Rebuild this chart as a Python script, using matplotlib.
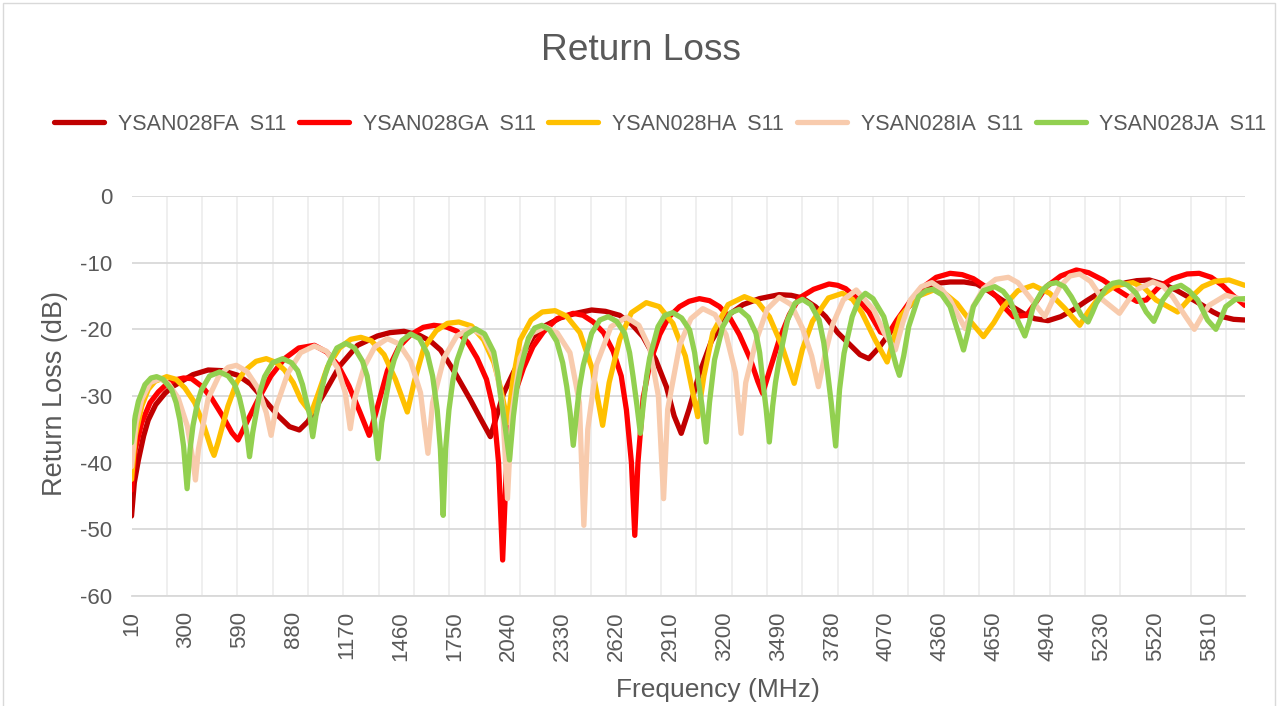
import matplotlib.pyplot as plt
from matplotlib.patches import Rectangle

plt.rcParams['font.family'] = ['Liberation Sans', 'DejaVu Sans']
plt.rcParams['axes.unicode_minus'] = False

# Frequency (MHz) / return loss (dB)
fa_freq = [10, 25, 47, 75, 100, 140, 190, 230, 261, 340, 422, 500, 583, 650, 726, 800, 860, 913,
           960, 1000, 1047, 1130, 1226, 1333, 1400, 1476, 1560, 1620, 1673, 1750, 1834, 1890,
           1941, 1975, 2012, 2066, 2120, 2173, 2240, 2316, 2400, 2486, 2560, 2637, 2700, 2762,
           2830, 2888, 2930, 2968, 3010, 3066, 3130, 3209, 3300, 3388, 3495, 3560, 3620, 3690,
           3745, 3810, 3879, 3930, 3977, 4030, 4094, 4180, 4272, 4340, 4415, 4490, 4558, 4620,
           4683, 4750, 4808, 4870, 4942, 5010, 5076, 5150, 5219, 5290, 5362, 5420, 5487, 5560,
           5630, 5700, 5773, 5830, 5880, 5940, 6000]
fa_db = [-48.0, -43.0, -39.6, -36.0, -33.6, -31.3, -29.6, -28.6, -28.1, -26.8, -26.1, -26.2, -26.9,
         -28.2, -30.6, -33.0, -34.6, -35.1, -33.8, -31.8, -29.6, -25.5, -22.4, -21.0, -20.5, -20.3,
         -20.9, -21.8, -23.1, -26.5, -30.6, -33.5, -36.1, -33.0, -29.6, -26.4, -23.5, -21.1, -19.4,
         -18.3, -17.6, -17.1, -17.3, -17.9, -19.2, -21.1, -24.5, -28.6, -33.0, -35.6, -32.0, -26.6,
         -21.8, -18.1, -16.3, -15.4, -14.8, -14.9, -15.3, -16.6, -18.1, -20.5, -22.4, -23.8, -24.4,
         -22.8, -20.4, -17.0, -14.1, -13.1, -12.9, -12.9, -13.2, -14.2, -15.4, -16.6, -17.6, -18.4,
         -18.7, -18.1, -17.1, -15.7, -14.5, -13.6, -13.0, -12.7, -12.6, -13.2, -14.1, -15.2, -16.4,
         -17.4, -18.1, -18.5, -18.6]

ga_freq = [10, 30, 65, 110, 154, 200, 243, 290, 333, 390, 440, 500, 550, 583, 620, 690, 760, 833,
           910, 994, 1060, 1119, 1180, 1240, 1289, 1320, 1387, 1450, 1512, 1580, 1637, 1700, 1762,
           1820, 1869, 1920, 1959, 1985, 2007, 2025, 2048, 2080, 2119, 2170, 2226, 2300, 2387,
           2440, 2495, 2550, 2602, 2645, 2673, 2700, 2718, 2735, 2763, 2800, 2852, 2900, 2959,
           3010, 3066, 3120, 3174, 3230, 3281, 3340, 3380, 3406, 3440, 3495, 3550, 3603, 3680,
           3763, 3810, 3853, 3915, 3978, 4040, 4080, 4129, 4200, 4272, 4340, 4415, 4480, 4540,
           4600, 4665, 4710, 4755, 4826, 4880, 4933, 5010, 5094, 5160, 5237, 5300, 5362, 5420,
           5470, 5540, 5612, 5690, 5755, 5820, 5880, 5940, 6000]
ga_db = [-44.1, -38.0, -34.0, -31.0, -29.4, -28.2, -27.6, -27.3, -27.4, -28.6, -30.3, -33.0, -35.5,
         -36.6, -34.5, -30.6, -27.0, -24.4, -22.8, -22.4, -23.4, -25.3, -28.5, -32.5, -35.9, -33.0,
         -26.2, -22.6, -20.8, -19.7, -19.4, -19.6, -20.3, -22.0, -24.3, -27.5, -32.1, -40.0, -54.6,
         -42.0, -34.0, -29.0, -25.8, -22.6, -20.4, -18.4, -17.6, -17.9, -18.9, -20.5, -23.3, -27.0,
         -32.1, -40.0, -50.9, -40.0, -30.3, -25.0, -20.8, -18.2, -16.6, -15.8, -15.4, -15.7, -16.6,
         -18.3, -20.8, -24.5, -27.8, -29.6, -26.5, -21.6, -17.8, -15.3, -14.0, -13.2, -13.4, -13.9,
         -15.4, -17.4, -20.4, -20.8, -18.6, -15.8, -13.6, -12.2, -11.6, -11.8, -12.4, -13.5, -15.1,
         -16.8, -18.1, -17.9, -15.8, -13.6, -12.0, -11.1, -11.5, -12.6, -13.8, -14.9, -15.8, -15.6,
         -13.6, -12.4, -11.7, -11.6, -12.2, -13.4, -15.0, -16.4]

ha_freq = [10, 30, 65, 100, 136, 199, 250, 297, 350, 400, 440, 454, 475, 529, 575, 619, 680, 735,
           790, 833, 880, 922, 976, 1010, 1065, 1130, 1190, 1244, 1300, 1369, 1430, 1494, 1530,
           1583, 1650, 1710, 1771, 1840, 1905, 1960, 1994, 2035, 2060, 2101, 2160, 2220, 2289,
           2350, 2423, 2490, 2545, 2580, 2637, 2700, 2780, 2850, 2923, 2990, 3057, 3090, 3138,
           3220, 3308, 3380, 3442, 3510, 3576, 3620, 3674, 3760, 3835, 3890, 3940, 4010, 4076,
           4110, 4147, 4236, 4326, 4390, 4451, 4530, 4594, 4650, 4701, 4780, 4862, 4951, 5030,
           5112, 5160, 5219, 5300, 5398, 5460, 5523, 5639, 5700, 5773, 5840, 5916, 6000]
ha_db = [-42.5, -36.0, -31.5, -29.0, -27.8, -27.1, -27.5, -28.8, -31.0, -34.5, -38.0, -38.9, -37.0,
         -31.5, -28.0, -26.2, -24.8, -24.4, -25.0, -26.1, -28.0, -30.6, -32.6, -30.0, -25.6, -22.8,
         -21.5, -21.2, -21.7, -23.8, -27.5, -32.4, -28.0, -22.8, -20.2, -19.1, -18.9, -19.5, -21.6,
         -25.0, -28.6, -34.0, -28.0, -21.6, -18.6, -17.4, -17.2, -18.0, -20.5, -26.0, -34.4, -28.0,
         -21.5, -17.5, -16.0, -16.6, -19.1, -24.0, -33.1, -27.0, -20.5, -16.3, -15.1, -15.9, -18.1,
         -22.5, -28.1, -23.0, -18.8, -15.3, -14.6, -15.5, -17.5, -21.5, -24.9, -21.5, -18.1, -15.1,
         -14.1, -14.7, -16.1, -19.0, -21.1, -19.0, -16.6, -14.2, -13.4, -14.6, -16.8, -19.4, -17.3,
         -15.1, -13.5, -13.0, -13.8, -15.6, -17.4, -15.5, -13.6, -12.8, -12.6, -13.4]

ia_freq = [10, 35, 65, 110, 163, 210, 261, 310, 340, 354, 370, 422, 480, 530, 574, 630, 690, 735,
           761, 790, 851, 920, 994, 1060, 1119, 1160, 1187, 1210, 1262, 1320, 1387, 1450, 1512,
           1565, 1605, 1630, 1691, 1760, 1834, 1900, 1959, 2005, 2033, 2055, 2101, 2165, 2235,
           2300, 2369, 2420, 2444, 2465, 2512, 2590, 2673, 2740, 2798, 2845, 2873, 2895, 2959,
           3020, 3084, 3150, 3209, 3260, 3290, 3315, 3370, 3430, 3495, 3560, 3620, 3670, 3706,
           3740, 3781, 3840, 3910, 4004, 4060, 4120, 4160, 4201, 4260, 4317, 4370, 4415, 4496,
           4540, 4594, 4660, 4728, 4780, 4826, 4924, 4960, 5005, 5060, 5112, 5170, 5237, 5326,
           5370, 5416, 5505, 5560, 5612, 5680, 5729, 5770, 5809, 5898, 6000]
ia_db = [-40.6, -34.0, -30.5, -28.0, -27.4, -28.2, -30.3, -34.5, -39.5, -42.6, -38.0, -30.4, -27.0,
         -25.7, -25.4, -26.3, -28.8, -32.5, -35.9, -31.5, -26.6, -23.5, -22.5, -23.3, -25.8, -29.5,
         -34.9, -30.5, -25.6, -22.6, -21.4, -22.2, -24.8, -29.5, -38.6, -31.0, -24.3, -21.0, -19.9,
         -20.8, -24.1, -31.0, -45.4, -33.0, -24.3, -20.6, -19.6, -20.5, -23.5, -31.0, -49.4, -35.0,
         -25.3, -19.6, -18.2, -19.4, -22.8, -30.0, -45.4, -32.0, -22.4, -18.4, -16.9, -17.8, -20.8,
         -26.5, -35.6, -28.0, -21.8, -17.0, -15.2, -16.3, -19.8, -24.0, -28.6, -24.0, -19.4, -15.6,
         -14.1, -17.1, -20.5, -23.1, -19.0, -15.6, -13.6, -13.0, -14.0, -15.6, -19.9, -16.5, -13.9,
         -12.5, -12.2, -13.0, -14.6, -18.1, -16.0, -13.6, -12.0, -11.7, -12.8, -15.6, -17.6, -15.8,
         -14.1, -12.9, -13.5, -15.1, -18.0, -20.0, -18.0, -16.4, -14.9, -15.6]

ja_freq = [10, 30, 47, 82, 115, 145, 180, 225, 250, 270, 290, 309, 325, 341, 365, 386, 430, 484,
           530, 565, 590, 610, 630, 645, 662, 681, 700, 726, 770, 824, 870, 904, 930, 949, 970,
           985, 1002, 1030, 1050, 1074, 1115, 1163, 1210, 1253, 1278, 1298, 1318, 1337, 1356,
           1378, 1400, 1423, 1465, 1512, 1560, 1601, 1630, 1655, 1672, 1687, 1700, 1718, 1740,
           1762, 1810, 1860, 1910, 1959, 1980, 1994, 2020, 2044, 2065, 2085, 2101, 2146, 2180,
           2218, 2260, 2298, 2330, 2352, 2370, 2387, 2405, 2420, 2441, 2486, 2530, 2575, 2620,
           2664, 2690, 2709, 2730, 2748, 2765, 2782, 2798, 2843, 2880, 2923, 2970, 3013, 3040,
           3057, 3080, 3102, 3120, 3147, 3191, 3235, 3281, 3330, 3370, 3390, 3406, 3425, 3442,
           3460, 3475, 3495, 3540, 3580, 3620, 3665, 3710, 3735, 3754, 3775, 3799, 3820, 3844,
           3888, 3925, 3959, 4000, 4058, 4080, 4102, 4125, 4142, 4165, 4192, 4245, 4285, 4322,
           4370, 4415, 4460, 4487, 4510, 4540, 4594, 4656, 4700, 4737, 4782, 4817, 4840, 4862,
           4915, 4950, 4987, 5030, 5067, 5121, 5157, 5180, 5201, 5255, 5290, 5326, 5370, 5416,
           5470, 5511, 5535, 5559, 5604, 5657, 5700, 5747, 5800, 5845, 5870, 5898, 5950, 6000]
ja_db = [-37.0, -33.0, -30.8, -28.3, -27.3, -27.1, -27.5, -29.0, -31.0, -33.6, -37.5, -43.9, -38.0,
         -34.4, -31.0, -29.1, -27.0, -26.4, -27.0, -28.3, -30.2, -32.6, -35.5, -39.1, -35.5, -32.5,
         -29.5, -27.1, -25.0, -24.4, -25.0, -26.2, -28.3, -30.6, -33.0, -36.1, -33.0, -29.4, -27.0,
         -25.0, -22.8, -22.1, -22.8, -24.8, -27.0, -30.4, -34.0, -39.4, -34.0, -30.4, -27.0, -24.6,
         -21.7, -20.7, -21.4, -23.6, -27.0, -32.1, -38.0, -47.9, -38.0, -32.1, -27.5, -24.6, -20.8,
         -19.9, -20.7, -23.4, -26.5, -29.6, -34.5, -39.6, -33.0, -28.5, -26.1, -21.3, -19.8, -19.4,
         -20.1, -21.8, -25.0, -28.6, -32.5, -37.4, -32.5, -28.8, -25.4, -20.6, -18.6, -18.1, -18.8,
         -20.6, -23.5, -27.1, -31.5, -35.6, -31.0, -27.0, -24.3, -19.6, -17.9, -17.5, -18.3, -20.1,
         -23.5, -27.1, -31.5, -36.9, -31.0, -24.6, -19.6, -17.5, -17.0, -18.2, -20.6, -23.5, -27.6,
         -32.0, -36.9, -31.5, -28.0, -24.6, -18.6, -16.1, -15.5, -16.3, -18.6, -22.0, -26.1, -31.0,
         -37.5, -29.0, -23.6, -18.1, -15.5, -14.6, -15.4, -18.1, -20.3, -23.1, -25.5, -26.9, -24.0,
         -19.6, -15.1, -14.2, -14.0, -14.8, -16.6, -20.6, -23.1, -20.5, -16.6, -14.2, -13.6, -14.3,
         -15.6, -18.9, -21.0, -19.0, -16.6, -14.0, -13.2, -13.0, -13.6, -15.1, -17.9, -18.9, -17.5,
         -16.1, -13.8, -13.1, -12.9, -13.4, -14.6, -17.4, -18.8, -17.3, -15.6, -13.9, -13.4, -14.2,
         -15.6, -18.6, -20.0, -18.5, -16.6, -15.5, -15.4]

series = [
    ('YSAN028FA  S11', fa_freq, fa_db, '#C00000'),
    ('YSAN028GA  S11', ga_freq, ga_db, '#FF0000'),
    ('YSAN028HA  S11', ha_freq, ha_db, '#FFC000'),
    ('YSAN028IA  S11', ia_freq, ia_db, '#F8CBAD'),
    ('YSAN028JA  S11', ja_freq, ja_db, '#92D050'),
]

x_labels = list(range(10, 6000, 290))
grey = '#595959'

fig = plt.figure(figsize=(12.82, 7.06), dpi=100)
ax = fig.add_axes([0.1026, 0.1558, 0.8683, 0.5666])

for name, f, v, c in series:
    ax.plot(f, v, color=c, lw=3.8, label=name,
            solid_joinstyle='round', solid_capstyle='round')

ax.set_xlim(10, 6000)
ax.set_ylim(-60, 0)
ax.set_yticks(range(-60, 1, 10))
ax.set_xticks(x_labels)
ax.set_xticklabels([str(t) for t in x_labels], rotation=90)
ax.set_xticks(range(10, 6001, 190), minor=True)

ax.grid(which='major', axis='y', color='#D9D9D9', lw=1.3)
ax.grid(which='minor', axis='x', color='#EEEEEE', lw=1.3)
ax.set_axisbelow(True)
ax.tick_params(axis='both', which='both', length=0, labelsize=16, labelcolor=grey)
ax.tick_params(axis='y', pad=14)
ax.tick_params(axis='x', pad=11)
for side in ['top', 'right', 'left']:
    ax.spines[side].set_visible(False)
ax.spines['bottom'].set_color('#D9D9D9')
ax.spines['bottom'].set_linewidth(1.3)

fig.text(0.5, 1 - 50 / 706, 'Return Loss', ha='center', va='center', fontsize=26.7, color=grey)
fig.text(718 / 1282, 1 - 690 / 706, 'Frequency (MHz)', ha='center', va='center',
         fontsize=19, color=grey)
fig.text(55 / 1282, 1 - 394 / 706, 'Return Loss (dB)', ha='center', va='center',
         rotation=90, fontsize=19.5, color=grey)

leg = fig.legend(loc='center', bbox_to_anchor=(0.515, 1 - 124 / 706), ncol=5, frameon=False,
                 fontsize=15.5, handlelength=2.32, handletextpad=0.64, columnspacing=0.6)
for t in leg.get_texts():
    t.set_color(grey)

fig.patches.append(Rectangle((3 / 1282, -0.01), 1272 / 1282, 1.01 - 3 / 706,
                             transform=fig.transFigure, fill=False, ec='#D9D9D9', lw=1))

fig.savefig('out.png', dpi=100)
